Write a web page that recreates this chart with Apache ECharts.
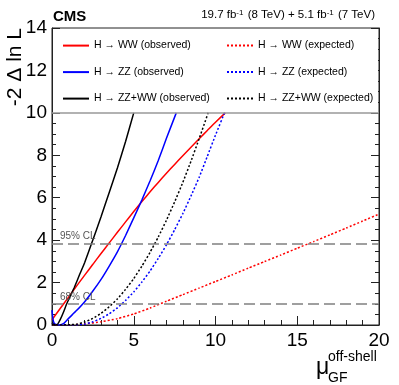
<!DOCTYPE html>
<html>
<head>
<meta charset="utf-8">
<script src="https://cdn.jsdelivr.net/npm/echarts@6/dist/echarts.min.js"></script>
<style>
  html, body { margin: 0; padding: 0; background: #fff; }
  #chart { width: 399px; height: 385px; }
</style>
</head>
<body>
<div id="chart"></div>
<script>
// -2 Delta ln L scans vs mu (off-shell) as [mu, value]
const wwObserved = [[0,0.25],[0.5,0.78],[1,1.3],[1.5,1.83],[2,2.35],[2.5,2.86],[3,3.37],[3.5,3.87],[4,4.37],[4.5,4.86],[5,5.35],[5.5,5.82],[6,6.28],[6.5,6.72],[7,7.15],[7.5,7.57],[8,7.98],[8.5,8.38],[9,8.78],[9.5,9.17],[10,9.56],[10.6,10]];
const zzObserved = [[0,0.7],[0.05,0.32],[0.12,0.1],[0.25,0.02],[0.45,0],[0.7,0.06],[1,0.3],[1.5,0.68],[2,1.1],[2.5,1.6],[3,2.15],[3.5,2.78],[4,3.45],[4.5,4.22],[5,5.05],[5.5,5.9],[6,6.8],[6.5,7.75],[7,8.8],[7.6,10]];
const combObserved = [[0,0.1],[0.15,0.01],[0.3,0],[0.5,0.25],[0.7,0.6],[0.9,1.0],[1.1,1.33],[1.37,1.78],[1.7,2.4],[2,2.95],[2.42,3.84],[3,5.1],[3.5,6.25],[4,7.4],[4.5,8.65],[5,10]];
const wwExpected = [[0,0.02],[1,0],[2,0.05],[3,0.15],[4,0.3],[5,0.52],[6,0.8],[7,1.12],[8,1.43],[9,1.74],[10,2.05],[11,2.36],[12,2.68],[13,2.99],[14,3.3],[15,3.62],[16,3.93],[17,4.25],[18,4.57],[19,4.9],[20,5.23]];
const zzExpected = [[0,0.03],[0.5,0.01],[1,0],[1.5,0.01],[2,0.04],[2.5,0.15],[3,0.31],[3.5,0.53],[4,0.81],[4.5,1.16],[5,1.56],[5.5,2.03],[6,2.55],[6.5,3.14],[7,3.78],[7.5,4.49],[8,5.25],[8.5,6.08],[9,6.96],[9.5,7.95],[10,8.95],[10.55,10]];
const combExpected = [[0,0.02],[0.5,0],[1,0.01],[1.5,0.04],[2,0.14],[2.5,0.31],[3,0.55],[3.5,0.86],[4,1.23],[4.5,1.68],[5,2.19],[5.5,2.78],[6,3.43],[6.5,4.15],[7,4.94],[7.5,5.8],[8,6.72],[8.5,7.72],[9,8.78],[9.55,10]];

const seriesNames = [
  'H → WW (observed)', 'H → ZZ (observed)', 'H → ZZ+WW (observed)',
  'H → WW (expected)', 'H → ZZ (expected)', 'H → ZZ+WW (expected)'
];
const clValues = [1, 3.84];
const clLabels = ['68% CL', '95% CL'];

const font = 'Liberation Sans, Arial, Helvetica, sans-serif';
const chart = echarts.init(document.getElementById('chart'));

function curve(name, data, color, dotted) {
  return {
    name: name,
    type: 'line',
    data: data,
    symbol: 'none',
    showSymbol: false,
    smooth: 0.15,
    z: 3,
    lineStyle: { color: color, width: 1.5, type: dotted ? [2, 2] : 'solid' },
    itemStyle: { color: color }
  };
}

const series = [
  curve(seriesNames[0], wwObserved, '#ff0000', false),
  curve(seriesNames[1], zzObserved, '#0000ff', false),
  curve(seriesNames[2], combObserved, '#000000', false),
  curve(seriesNames[3], wwExpected, '#ff0000', true),
  curve(seriesNames[4], zzExpected, '#0000ff', true),
  curve(seriesNames[5], combExpected, '#000000', true)
];

// CL thresholds and legend-box bottom line
series[0].markLine = {
  silent: true,
  symbol: ['none', 'none'],
  animation: false,
  lineStyle: { color: '#808080', width: 1.5, type: [11, 5] },
  label: {
    show: true, position: 'insideStartTop', formatter: '{b}',
    fontSize: 10, fontFamily: font, color: '#555', distance: [8, 2]
  },
  data: clValues.map((v, i) => ({ yAxis: v, name: clLabels[i] })).concat([
    { yAxis: 10, name: '', lineStyle: { type: 'solid', color: '#999', width: 1.5 }, label: { show: false } }
  ])
};

const legendBase = {
  orient: 'vertical',
  top: 35,
  itemWidth: 26,
  itemHeight: 14,
  itemGap: 15.3,
  selectedMode: false,
  z: 10,
  itemStyle: { opacity: 0 },
  textStyle: { fontSize: 10.5, fontFamily: font, color: '#000', padding: [0, 0, 0, 0] }
};

chart.setOption({
  animation: false,
  grid: { left: 52, right: 20, top: 28, bottom: 60, show: true, borderColor: '#222', borderWidth: 1 },
  legend: [
    Object.assign({}, legendBase, { left: 57, data: seriesNames.slice(0, 3) }),
    Object.assign({}, legendBase, { left: 221, data: seriesNames.slice(3) })
  ],
  xAxis: {
    type: 'value', min: 0, max: 20, interval: 5,
    axisLine: { show: true, lineStyle: { color: '#222' } },
    axisTick: { show: true, inside: true, length: 9, lineStyle: { color: '#222' } },
    minorTick: { show: true, splitNumber: 5, length: 5, lineStyle: { color: '#222' } },
    splitLine: { show: false },
    axisLabel: { fontSize: 19, fontFamily: font, color: '#000', margin: 6 }
  },
  yAxis: [
    {
      type: 'value', min: 0, max: 14, interval: 2,
      axisLine: { show: true, lineStyle: { color: '#222' } },
      axisTick: { show: true, inside: true, length: 8, lineStyle: { color: '#222' } },
      minorTick: { show: true, splitNumber: 4, length: 4, lineStyle: { color: '#222' } },
      splitLine: { show: false },
      axisLabel: { fontSize: 19, fontFamily: font, color: '#000', margin: 5 }
    },
    {
      type: 'value', min: 0, max: 14, interval: 2, position: 'right',
      axisLine: { show: true, lineStyle: { color: '#222' } },
      axisTick: { show: true, inside: true, length: 8, lineStyle: { color: '#222' } },
      minorTick: { show: true, splitNumber: 4, length: 4, lineStyle: { color: '#222' } },
      splitLine: { show: false },
      axisLabel: { show: false }
    }
  ],
  series: series
});

// white legend box over the top part of the frame, plus titles
const p0 = chart.convertToPixel({ gridIndex: 0 }, [0, 14]);
const p1 = chart.convertToPixel({ gridIndex: 0 }, [20, 10]);
chart.setOption({
  graphic: [
    {
      type: 'rect', z: 5, silent: true,
      shape: { x: p0[0] + 1, y: p0[1] + 1, width: p1[0] - p0[0] - 2, height: p1[1] - p0[1] - 2 },
      style: { fill: '#fff' }
    },
    {
      type: 'text', left: 53, top: 9, z: 6,
      style: { text: 'CMS', font: 'bold 15px ' + font, fill: '#000' }
    },
    {
      type: 'text', right: 24, top: 9, z: 6,
      style: {
        text: '19.7 fb{s|-1} (8 TeV) + 5.1 fb{s|-1} (7 TeV)',
        font: '11.5px ' + font, fill: '#000',
        rich: { s: { fontSize: 8, fontFamily: font, verticalAlign: 'top', lineHeight: 9, padding: [0, 1, 4, 0] } }
      }
    },
    {
      type: 'text', x: 15, y: 28, rotation: Math.PI / 2, z: 6,
      style: { text: '-2 Δ ln L', font: '21px ' + font, fill: '#000', align: 'right', verticalAlign: 'middle' }
    },
    {
      type: 'text', x: 316, y: 368, z: 6,
      style: { text: 'μ', font: '23px ' + font, fill: '#000', align: 'left', verticalAlign: 'middle' }
    },
    {
      type: 'text', x: 328, y: 357, z: 6,
      style: { text: 'off-shell', font: '14px ' + font, fill: '#000', align: 'left', verticalAlign: 'middle' }
    },
    {
      type: 'text', x: 328, y: 378, z: 6,
      style: { text: 'GF', font: '14px ' + font, fill: '#000', align: 'left', verticalAlign: 'middle' }
    }
  ]
});
</script>
</body>
</html>
